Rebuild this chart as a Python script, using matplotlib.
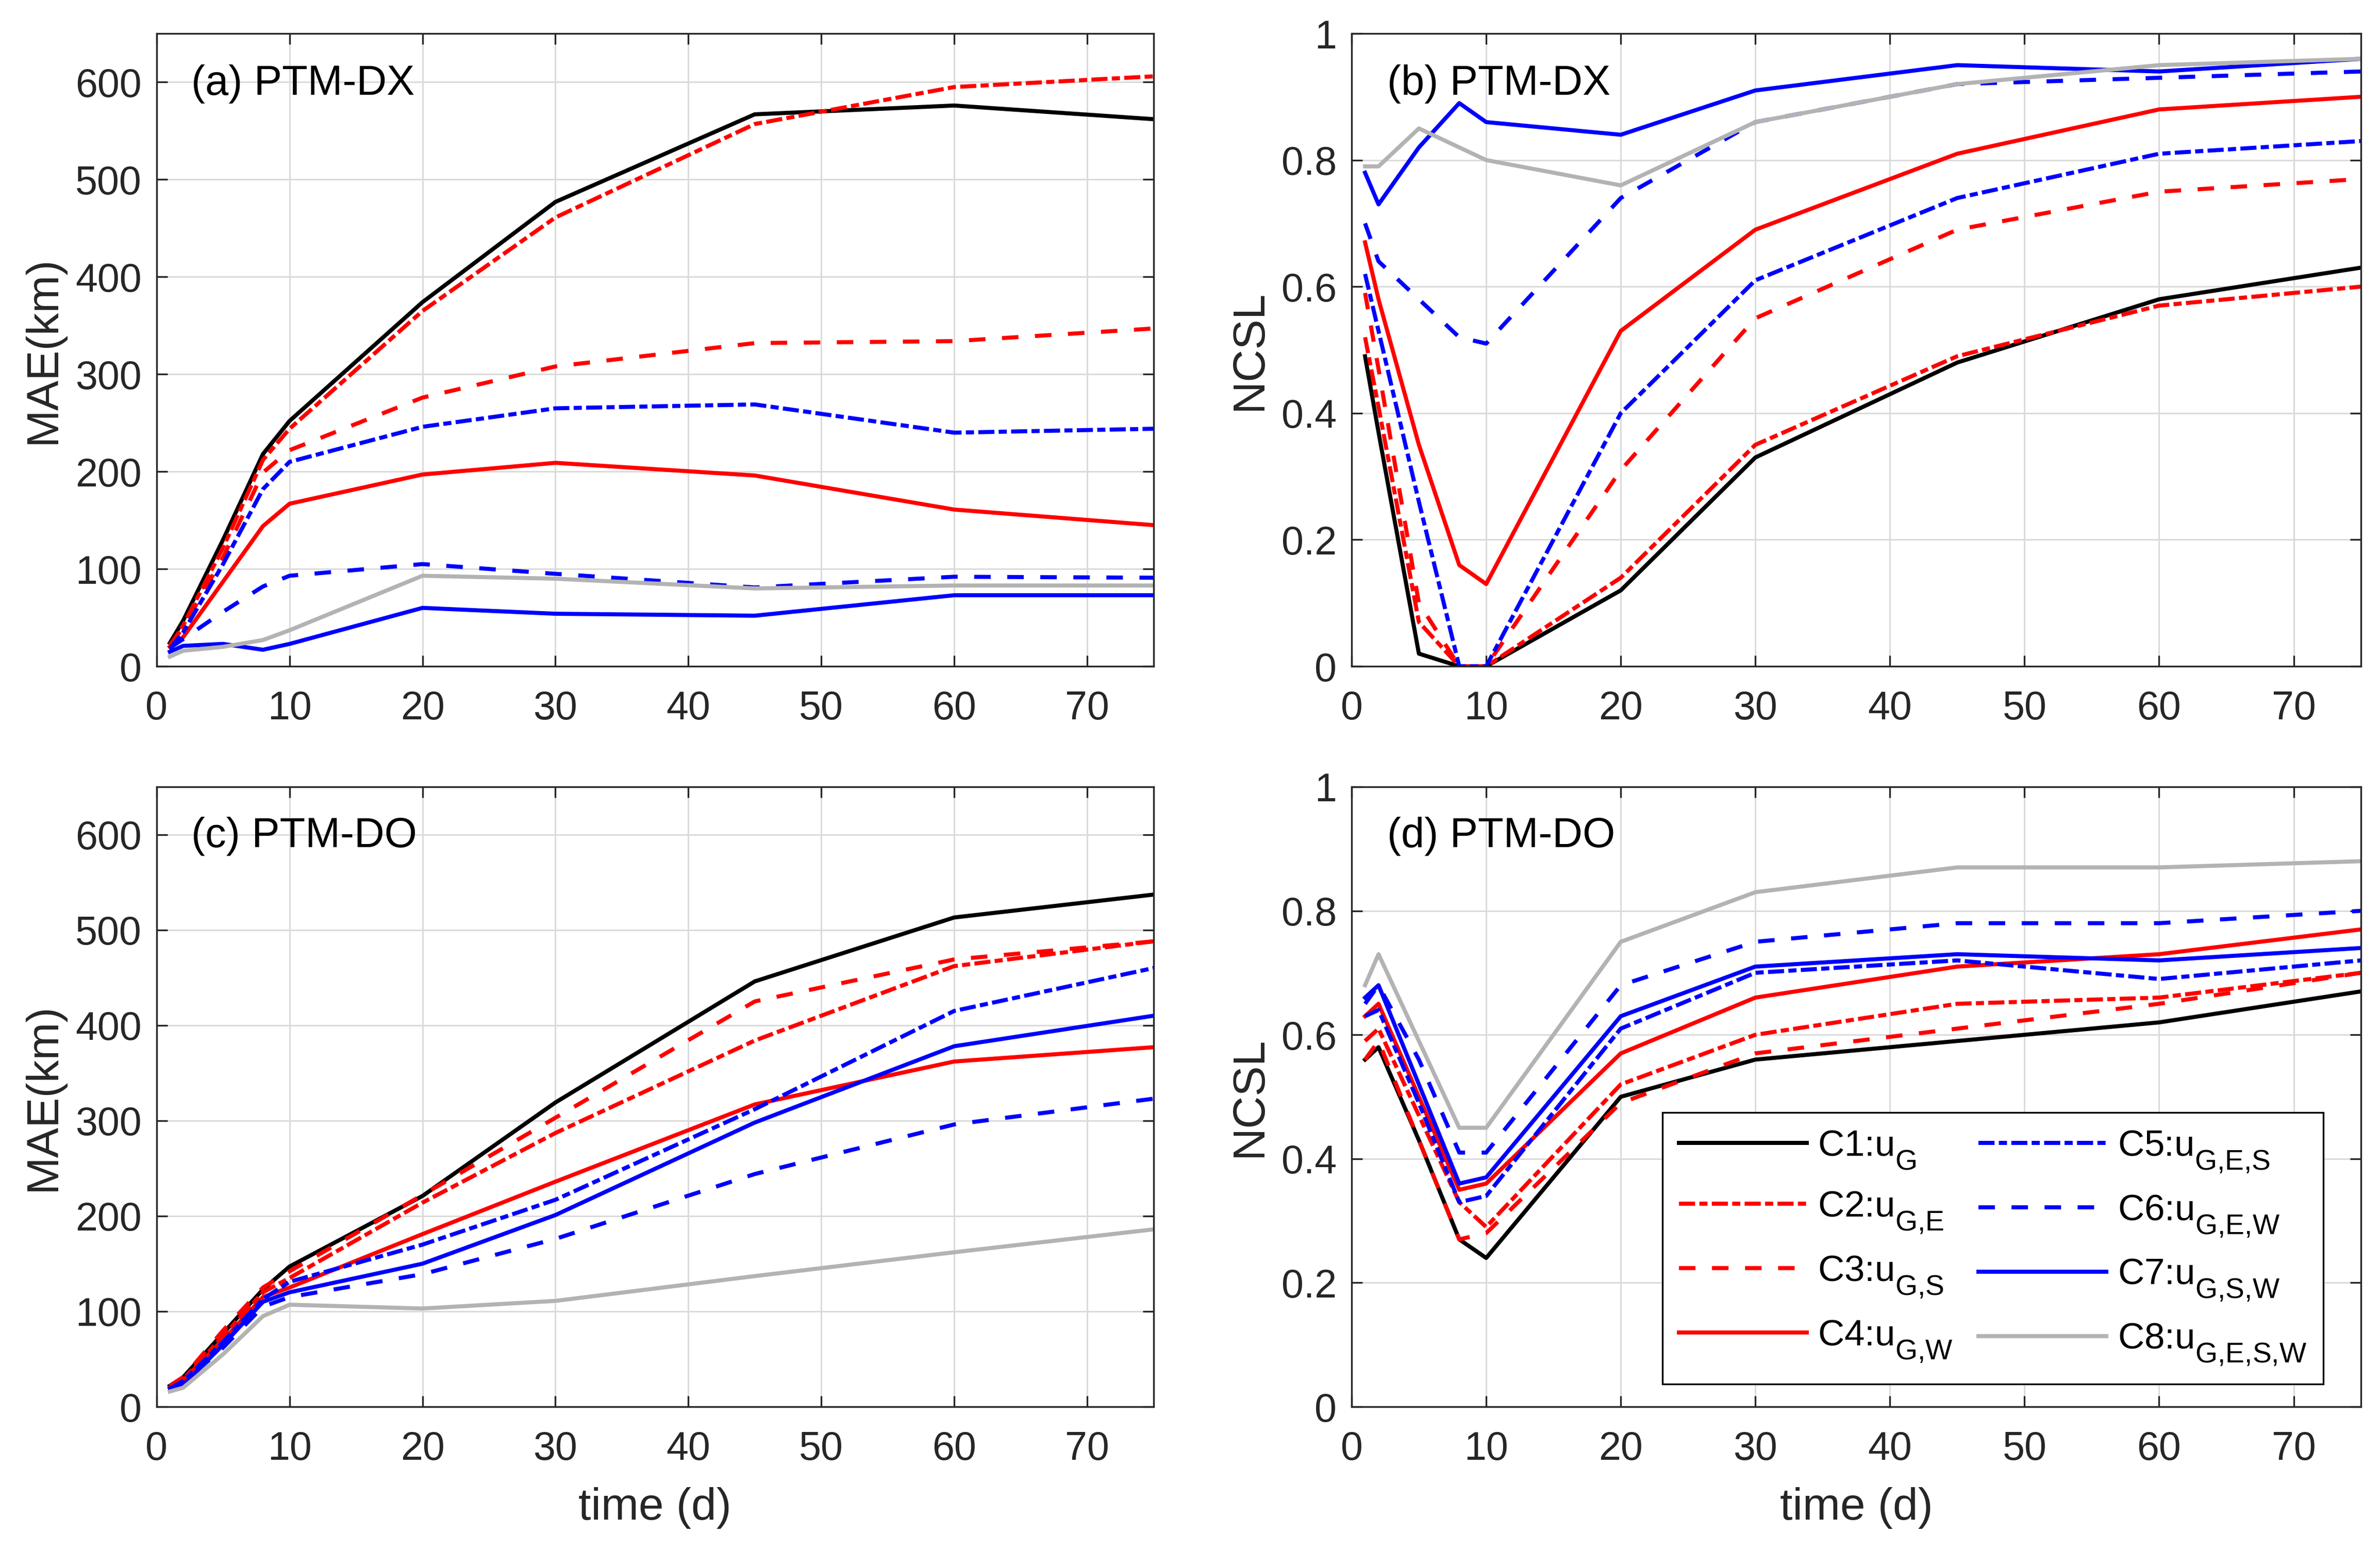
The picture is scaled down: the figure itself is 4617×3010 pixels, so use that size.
import numpy as np
import matplotlib
matplotlib.use('Agg')
import matplotlib.pyplot as plt
import matplotlib._mathtext as mathtext_internals

plt.rcParams['font.family'] = ['Liberation Sans', 'DejaVu Sans']
plt.rcParams['mathtext.fontset'] = 'custom'
plt.rcParams['mathtext.rm'] = 'Liberation Sans'
plt.rcParams['mathtext.it'] = 'Liberation Sans:italic'
plt.rcParams['mathtext.default'] = 'rm'

# bigger, lower subscripts, closer to the MATLAB legend look
try:
    mathtext_internals.SHRINK_FACTOR = 0.78
    mathtext_internals.FontConstantsBase.sub1 = 0.75
except AttributeError:
    pass

# time axis (days)
days = [1, 2, 5, 8, 10, 20, 30, 45, 60, 75]

# (a) PTM-DX, MAE (km)
mae_dx_c1 = [24, 47, 130, 218, 252, 374, 477, 567, 576, 562]
mae_dx_c2 = [21, 42, 122, 212, 244, 365, 461, 557, 595, 606]
mae_dx_c3 = [22, 40, 112, 199, 222, 276, 308, 332, 334, 347]
mae_dx_c4 = [20, 30, 87, 144, 167, 197, 209, 196, 161, 145]
mae_dx_c5 = [18, 35, 105, 182, 210, 246, 265, 269, 240, 244]
mae_dx_c6 = [19, 28, 56, 82, 93, 105, 95, 81, 92, 91]
mae_dx_c7 = [15, 21, 23, 17, 23, 60, 54, 52, 73, 73]
mae_dx_c8 = [10, 16, 20, 27, 37, 93, 90, 80, 83, 83]

# (b) PTM-DX, NCSL
ncsl_dx_c1 = [0.49, 0.37, 0.02, 0.0, 0.0, 0.12, 0.33, 0.48, 0.58, 0.63]
ncsl_dx_c2 = [0.52, 0.41, 0.07, 0.0, 0.0, 0.14, 0.35, 0.49, 0.57, 0.60]
ncsl_dx_c3 = [0.59, 0.47, 0.10, 0.0, 0.0, 0.31, 0.55, 0.69, 0.75, 0.77]
ncsl_dx_c4 = [0.67, 0.58, 0.35, 0.16, 0.13, 0.53, 0.69, 0.81, 0.88, 0.90]
ncsl_dx_c5 = [0.62, 0.53, 0.26, 0.0, 0.0, 0.40, 0.61, 0.74, 0.81, 0.83]
ncsl_dx_c6 = [0.70, 0.64, 0.58, 0.52, 0.51, 0.74, 0.86, 0.92, 0.93, 0.94]
ncsl_dx_c7 = [0.78, 0.73, 0.82, 0.89, 0.86, 0.84, 0.91, 0.95, 0.94, 0.96]
ncsl_dx_c8 = [0.79, 0.79, 0.85, 0.82, 0.80, 0.76, 0.86, 0.92, 0.95, 0.96]

# (c) PTM-DO, MAE (km)
mae_do_c1 = [22, 31, 77, 123, 147, 221, 319, 446, 513, 537]
mae_do_c2 = [20, 29, 74, 120, 135, 214, 287, 384, 462, 488]
mae_do_c3 = [22, 31, 80, 125, 142, 222, 303, 425, 469, 488]
mae_do_c4 = [20, 28, 70, 115, 125, 181, 236, 317, 362, 377]
mae_do_c5 = [19, 27, 68, 113, 131, 170, 217, 312, 415, 460]
mae_do_c6 = [18, 25, 62, 105, 115, 139, 176, 244, 296, 323]
mae_do_c7 = [19, 23, 65, 110, 120, 150, 201, 298, 378, 410]
mae_do_c8 = [16, 20, 55, 95, 107, 103, 111, 137, 162, 186]

# (d) PTM-DO, NCSL
ncsl_do_c1 = [0.56, 0.58, 0.43, 0.27, 0.24, 0.50, 0.56, 0.59, 0.62, 0.67]
ncsl_do_c2 = [0.59, 0.61, 0.47, 0.33, 0.29, 0.52, 0.60, 0.65, 0.66, 0.70]
ncsl_do_c3 = [0.56, 0.59, 0.43, 0.27, 0.28, 0.49, 0.57, 0.61, 0.65, 0.70]
ncsl_do_c4 = [0.63, 0.65, 0.50, 0.35, 0.36, 0.57, 0.66, 0.71, 0.73, 0.77]
ncsl_do_c5 = [0.63, 0.64, 0.49, 0.33, 0.34, 0.61, 0.70, 0.72, 0.69, 0.72]
ncsl_do_c6 = [0.65, 0.68, 0.56, 0.41, 0.41, 0.68, 0.75, 0.78, 0.78, 0.80]
ncsl_do_c7 = [0.66, 0.68, 0.52, 0.36, 0.37, 0.63, 0.71, 0.73, 0.72, 0.74]
ncsl_do_c8 = [0.68, 0.73, 0.59, 0.45, 0.45, 0.75, 0.83, 0.87, 0.87, 0.88]

case_labels = [r'C1:u$_{G}$', r'C2:u$_{G{,}E}$', r'C3:u$_{G{,}S}$', r'C4:u$_{G{,}W}$',
               r'C5:u$_{G{,}E{,}S}$', r'C6:u$_{G{,}E{,}W}$', r'C7:u$_{G{,}S{,}W}$',
               r'C8:u$_{G{,}E{,}S{,}W}$']

dash = (0, (4.05, 4.05))
dashdot = (0, (3.95, 1.05, 2.0, 1.05))
styles = [('k', '-'), ('r', dashdot), ('r', dash), ('r', '-'),
          ('b', dashdot), ('b', dash), ('b', '-'), ('#b3b3b3', '-')]

panels = [
    ('(a) PTM-DX', [mae_dx_c1, mae_dx_c2, mae_dx_c3, mae_dx_c4,
                    mae_dx_c5, mae_dx_c6, mae_dx_c7, mae_dx_c8]),
    ('(b) PTM-DX', [ncsl_dx_c1, ncsl_dx_c2, ncsl_dx_c3, ncsl_dx_c4,
                    ncsl_dx_c5, ncsl_dx_c6, ncsl_dx_c7, ncsl_dx_c8]),
    ('(c) PTM-DO', [mae_do_c1, mae_do_c2, mae_do_c3, mae_do_c4,
                    mae_do_c5, mae_do_c6, mae_do_c7, mae_do_c8]),
    ('(d) PTM-DO', [ncsl_do_c1, ncsl_do_c2, ncsl_do_c3, ncsl_do_c4,
                    ncsl_do_c5, ncsl_do_c6, ncsl_do_c7, ncsl_do_c8]),
]

rects = [[0.0658, 0.5704, 0.4189, 0.4080],
         [0.5679, 0.5704, 0.4241, 0.4080],
         [0.0658, 0.0930, 0.4189, 0.3997],
         [0.5679, 0.0930, 0.4241, 0.3997]]

fig = plt.figure(figsize=(4617 / 300, 3010 / 300), dpi=300)
dark = '#262626'
handles = []
for i, (title, series) in enumerate(panels):
    ax = fig.add_axes(rects[i])
    for k, vals in enumerate(series):
        col, ls = styles[k]
        ln, = ax.plot(days, vals, color=col, linestyle=ls, lw=1.9)
        if i == 3:
            handles.append(ln)
    ax.set_xlim(0, 75)
    ax.set_xticks(np.arange(0, 71, 10))
    if i % 2 == 0:
        ax.set_ylim(0, 650)
        ax.set_yticks(np.arange(0, 601, 100))
        ax.set_ylabel('MAE(km)', fontsize=21, color=dark, labelpad=5)
    else:
        ax.set_ylim(0, 1)
        ax.set_yticks([0, 0.2, 0.4, 0.6, 0.8, 1])
        ax.set_yticklabels(['0', '0.2', '0.4', '0.6', '0.8', '1'])
        ax.set_ylabel('NCSL', fontsize=21, color=dark, labelpad=5)
    if i >= 2:
        ax.set_xlabel('time (d)', fontsize=21, color=dark, labelpad=9)
    ax.grid(True, color='#dadada', lw=0.7)
    ax.set_axisbelow(True)
    ax.tick_params(direction='in', top=True, right=True, length=5, width=0.8,
                   colors=dark, labelsize=18.5)
    ax.tick_params(axis='x', pad=11)
    ax.tick_params(axis='y', pad=7)
    for sp in ax.spines.values():
        sp.set_color(dark)
        sp.set_linewidth(0.8)
    ax.text(0.035, 0.92, title, transform=ax.transAxes, fontsize=19.5,
            ha='left', va='center', color='k')
    if i == 3:
        leg = ax.legend(handles, case_labels, ncol=2, loc='upper left',
                        bbox_to_anchor=(0.6985, 0.2827), bbox_transform=fig.transFigure,
                        fontsize=17, frameon=True, fancybox=False, framealpha=1,
                        edgecolor='k', handlelength=3.5, handletextpad=0.3,
                        columnspacing=0.7, labelspacing=0.51, borderpad=0.45,
                        borderaxespad=0)
        leg.get_frame().set_linewidth(0.8)

fig.savefig('out.png', dpi=300)
